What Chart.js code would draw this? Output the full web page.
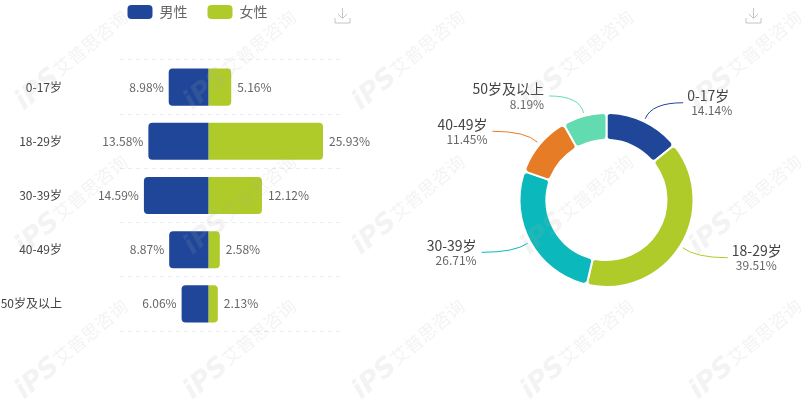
<!DOCTYPE html>
<html>
<head>
<meta charset="utf-8">
<script src="https://cdn.jsdelivr.net/npm/chart.js@4"></script>
<style>
  html, body { margin: 0; padding: 0; background: #fff; overflow: hidden; }
  #page { position: relative; width: 801px; height: 400px; }
  #page canvas { position: absolute; top: 0; }
  #watermark { left: 0; z-index: 5; pointer-events: none; }
  #bar-box { position: absolute; left: 0; top: 0; width: 392px; height: 400px; }
  #doughnut-box { position: absolute; left: 400px; top: 0; width: 401px; height: 400px; }
  .dl { position: absolute; top: 7px; width: 17px; height: 17px; }
</style>
</head>
<body>
<div id="page">
  <canvas id="watermark" width="801" height="400"></canvas>
  <div id="bar-box"><canvas id="bar-chart"></canvas></div>
  <div id="doughnut-box"><canvas id="doughnut-chart"></canvas></div>
  <svg class="dl" style="left:334px" viewBox="0 0 17 17" fill="none" stroke="#c4c4c4" stroke-width="1"><path d="M8.5 1v10M4 7l4.500 4.500L13 7M1 11v5h15v-5"/></svg>
  <svg class="dl" style="left:745px" viewBox="0 0 17 17" fill="none" stroke="#c4c4c4" stroke-width="1"><path d="M8.500 1v10M4 7l4.500 4.500L13 7M1 11v5h15v-5"/></svg>
</div>
<script>
const ageGroups = ['0-17岁', '18-29岁', '30-39岁', '40-49岁', '50岁及以上'];
const maleShare = [8.98, 13.58, 14.59, 8.87, 6.06];
const femaleShare = [5.16, 25.93, 12.12, 2.58, 2.13];
const ageShare = [14.14, 39.51, 26.71, 11.45, 8.19];

const blue = '#1f4699';
const green = '#aecb2a';
const ageColors = [blue, green, '#0bb8bb', '#e67c25', '#63dbb0'];
const cjk = '"Noto Sans CJK SC", "Noto Sans", sans-serif';

// where each doughnut label sits, relative to the slice it belongs to
const leaderOffsets = [[38, -16], [45, 10], [-46, 9], [-45, -11], [-34.5, -17]];

// watermark tiled over everything, faint enough to show through the bars
const wm = document.getElementById('watermark').getContext('2d');
wm.fillStyle = 'rgba(170,170,170,0.14)';
for (let row = -1; row < 4; row++) {
    for (let col = 0; col < 6; col++) {
        wm.save();
        wm.translate(118 + col * 168.5 - 168.5, 20 + row * 144.5);
        wm.rotate(-40 * Math.PI / 180);
        wm.textAlign = 'right';
        wm.textBaseline = 'middle';
        wm.font = '18px ' + cjk;
        wm.fillText('艾普思咨询', 9, 0);
        wm.font = 'italic bold 27px "DejaVu Sans"';
        wm.fillText('iPS', -82, 2);
        wm.restore();
    }
}

const barLabels = {
    id: 'barLabels',
    afterDatasetsDraw(chart) {
        const ctx = chart.ctx;
        ctx.save();
        ctx.font = '12px ' + cjk;
        ctx.fillStyle = '#666';
        ctx.textBaseline = 'middle';
        chart.data.datasets.forEach((ds, i) => {
            chart.getDatasetMeta(i).data.forEach((bar, j) => {
                const value = Math.abs(ds.data[j]).toFixed(2) + '%';
                ctx.textAlign = i === 0 ? 'right' : 'left';
                ctx.fillText(value, bar.x + (i === 0 ? -5 : 6), bar.y);
            });
        });
        ctx.restore();
    }
};

// legend padding also sets the gap between items, so move the legend by hand
const legendPlace = {
    id: 'legendPlace',
    afterLayout(chart) {
        chart.legend.top = -15;
        chart.legend.left += 27;
        chart.legend.right += 27;
    }
};

new Chart(document.getElementById('bar-chart'), {
    type: 'bar',
    plugins: [barLabels, legendPlace],
    data: {
        labels: ageGroups,
        datasets: [{
            label: '男性',
            data: maleShare.map(v => -v),
            backgroundColor: blue,
            borderSkipped: false,
            borderRadius: { topLeft: 4, bottomLeft: 4, topRight: 0, bottomRight: 0 }
        }, {
            label: '女性',
            data: femaleShare,
            backgroundColor: green,
            borderSkipped: false,
            borderRadius: { topLeft: 0, bottomLeft: 0, topRight: 4, bottomRight: 4 }
        }]
    },
    options: {
        indexAxis: 'y',
        responsive: true,
        maintainAspectRatio: false,
        animation: false,
        barPercentage: 0.685,
        categoryPercentage: 1,
        layout: { padding: { right: 51, bottom: 69 } },
        scales: {
            x: {
                position: 'top',
                stacked: true,
                min: -20,
                max: 30,
                grid: { display: false },
                border: { display: false },
                ticks: { display: false },
                afterFit: scale => { scale.height = 16; }
            },
            y: {
                stacked: true,
                grid: {
                    offset: true,
                    color: '#e8edf3',
                    drawTicks: false,
                    tickLength: 0
                },
                border: { display: false, dash: [4, 4] },
                ticks: {
                    padding: 58,
                    color: '#444',
                    font: { family: cjk, size: 12 }
                },
                afterFit: scale => {
                    scale.width = 120;
                    // the big tick padding would otherwise push the plot down
                    scale.paddingTop = 0;
                    scale.paddingBottom = 0;
                }
            }
        },
        plugins: {
            tooltip: { enabled: false },
            legend: {
                position: 'top',
                labels: {
                    boxWidth: 25,
                    boxHeight: 14,
                    useBorderRadius: true,
                    borderRadius: 4,
                    padding: 20,
                    color: '#666',
                    font: { family: cjk, size: 14 }
                }
            }
        }
    }
});

const sliceLabels = {
    id: 'sliceLabels',
    afterDatasetsDraw(chart) {
        const ctx = chart.ctx;
        chart.getDatasetMeta(0).data.forEach((arc, i) => {
            const mid = (arc.startAngle + arc.endAngle) / 2;
            const x0 = arc.x + Math.cos(mid) * (arc.outerRadius + 3);
            const y0 = arc.y + Math.sin(mid) * (arc.outerRadius + 3);
            const cx = arc.x + Math.cos(mid) * (arc.outerRadius + 18);
            const [dx, dy] = leaderOffsets[i];
            const x1 = x0 + dx;
            const y1 = y0 + dy;
            ctx.save();
            ctx.beginPath();
            ctx.moveTo(x0, y0);
            ctx.quadraticCurveTo(cx, y1, x1, y1);
            ctx.strokeStyle = ageColors[i];
            ctx.lineWidth = 1;
            ctx.stroke();
            const right = dx > 0;
            const tx = x1 + (right ? 4 : -5);
            ctx.textAlign = right ? 'left' : 'right';
            ctx.textBaseline = 'middle';
            ctx.font = '14px ' + cjk;
            ctx.fillStyle = '#444';
            ctx.fillText(ageGroups[i], tx, y1 - 7);
            ctx.font = '12px ' + cjk;
            ctx.fillStyle = '#666';
            ctx.fillText(ageShare[i].toFixed(2) + '%', right ? tx + 4 : tx, y1 + 8);
            ctx.restore();
        });
    }
};

new Chart(document.getElementById('doughnut-chart'), {
    type: 'doughnut',
    plugins: [sliceLabels],
    data: {
        labels: ageGroups,
        datasets: [{
            data: ageShare,
            backgroundColor: ageColors,
            borderColor: '#fff',
            borderWidth: 2,
            borderRadius: 4
        }]
    },
    options: {
        responsive: true,
        maintainAspectRatio: false,
        animation: false,
        cutout: '69%',
        layout: { padding: { left: 118.5, right: 106.5, top: 112, bottom: 112 } },
        plugins: {
            legend: { display: false },
            tooltip: { enabled: false }
        }
    }
});
</script>
</body>
</html>
